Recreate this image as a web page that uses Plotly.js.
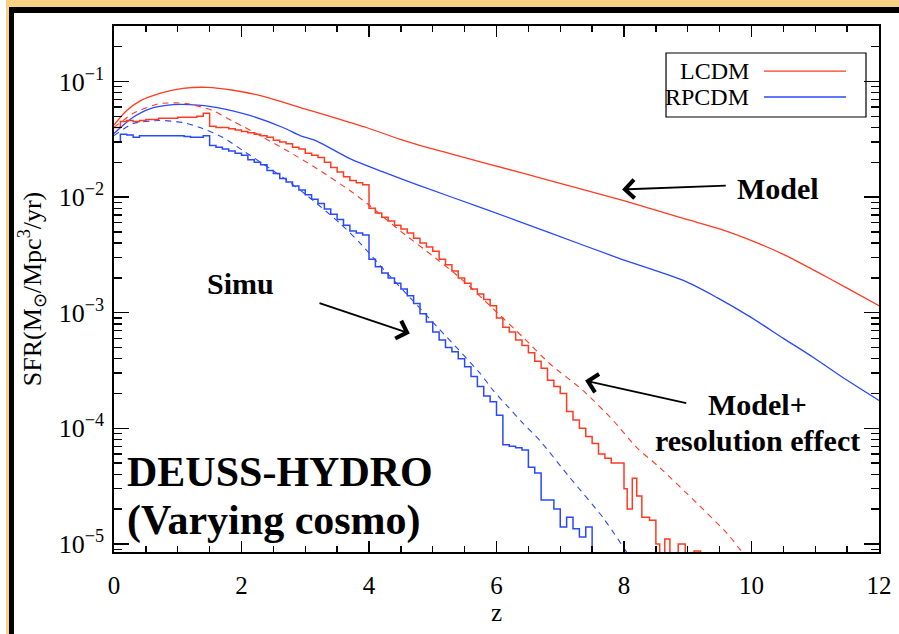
<!DOCTYPE html>
<html>
<head>
<meta charset="utf-8">
<script src="https://cdn.plot.ly/plotly-3.0.1.min.js"></script>
<style>
  html, body { margin:0; padding:0; background:#ffffff; width:899px; height:634px; overflow:hidden; }
  #gold { position:absolute; left:6px; top:0; width:893px; height:634px; background:#f7d184; }
  #black { position:absolute; left:9px; top:7px; width:890px; height:627px; background:#000000; }
  #chart { position:absolute; left:14px; top:13px; width:885px; height:621px; background:#ffffff; }
</style>
</head>
<body>
<div id="gold"></div>
<div id="black"></div>
<div id="chart"></div>
<script>
// ---------------- data ----------------
// Model (solid smooth lines)
var lcdmModelZ   = [0, 0.2, 0.41, 0.72, 1.08, 1.46, 1.87, 2.4, 2.92, 3.44, 3.97, 4.49, 4.91, 5.27, 5.79, 6.84, 7.98, 8.93, 9.5, 10.0, 10.5, 11.0, 11.5, 12];
var lcdmModelSFR = [0.042, 0.056, 0.068, 0.079, 0.087, 0.089, 0.084, 0.073, 0.0595, 0.049, 0.0398, 0.0316, 0.0269, 0.0238, 0.0199, 0.0139, 0.00935, 0.00653, 0.0053, 0.0042, 0.0032, 0.0023, 0.00163, 0.00115];

var rpcdmModelZ   = [0, 0.3, 0.56, 0.93, 1.19, 1.62, 2.13, 2.65, 2.92, 3.18, 3.70, 4.22, 4.75, 5.79, 6.84, 7.89, 8.93, 9.46, 9.98, 10.5, 11.0, 11.5, 12];
var rpcdmModelSFR = [0.0355, 0.049, 0.058, 0.063, 0.063, 0.0595, 0.0508, 0.040, 0.034, 0.0305, 0.0215, 0.0165, 0.0128, 0.008, 0.0049, 0.003, 0.0019, 0.00135, 0.00092, 0.0006, 0.0004, 0.00026, 0.000174];

// Model + resolution effect (dashed lines)
var lcdmResZ   = [0, 0.3, 0.72, 1.14, 1.55, 1.87, 2.02, 2.71, 3.18, 3.70, 3.97, 4.49, 5.0, 5.43, 5.95, 6.42, 6.84, 7.36, 7.83, 8.2, 8.56, 9.15, 9.62, 9.85];
var lcdmResSFR = [0.040, 0.053, 0.0645, 0.0645, 0.056, 0.045, 0.041, 0.0253, 0.0177, 0.0114, 0.0088, 0.0051, 0.0031, 0.0020, 0.00108, 0.00061, 0.00036, 0.000212, 0.000117, 0.000068, 0.0000458, 0.0000223, 0.0000123, 0.0000085];

var rpcdmResZ   = [0, 0.3, 0.72, 1.08, 1.35, 1.71, 2.02, 2.65, 3.03, 3.55, 3.86, 4.22, 4.75, 5.0, 5.74, 5.95, 6.16, 6.42, 6.68, 7.15, 7.67, 8.06];
var rpcdmResSFR = [0.034, 0.0433, 0.046, 0.0442, 0.040, 0.0328, 0.0253, 0.0148, 0.0103, 0.0059, 0.0040, 0.0024, 0.00117, 0.00083, 0.0003, 0.000212, 0.000158, 0.00011, 0.0000784, 0.0000375, 0.0000169, 0.0000082];

// Simulation (histogram steps)
var lcdmSimZ = [0.0,0.1,0.2,0.3,0.4,0.5,0.6,0.7,0.8,0.9,1.0,1.1,1.2,1.3,1.4,1.5,1.6,1.7,1.8,1.9,
                2.0,2.1,2.2,2.3,2.4,2.5,2.6,2.7,2.8,2.9,3.0,3.1,3.2,3.3,3.4,3.5,3.6,3.7,3.8,3.9,
                4.0,4.1,4.2,4.3,4.4,4.5,4.6,4.7,4.8,4.9,5.0,5.1,5.2,5.3,5.4,5.5,5.6,5.7,5.8,5.9,
                6.0,6.1,6.2,6.3,6.4,6.5,6.6,6.7,6.8,6.9,7.0,7.1,7.2,7.3,7.4,7.5,7.6,7.7,7.8,7.9,
                8.0,8.05,8.13,8.2,8.28,8.4,8.5,8.56,8.64,8.72,8.85,8.96,9.1,9.2];
var lcdmSimSFR = [0.040,0.045,0.046,0.045,0.046,0.047,0.047,0.048,0.048,0.048,0.049,0.049,0.049,0.050,0.053,0.041,0.040,0.040,0.039,0.038,
                0.037,0.036,0.035,0.034,0.033,0.031,0.030,0.029,0.027,0.026,0.024,0.023,0.022,0.020,0.018,0.0165,0.015,0.0139,0.0133,0.0128,
                0.0080,0.0073,0.0067,0.0062,0.0057,0.0053,0.0049,0.0044,0.0040,0.0037,0.0034,0.0029,0.0026,0.0023,0.0020,0.0018,0.0016,0.00145,0.0013,0.00115,
                0.0009,0.00075,0.00068,0.00058,0.00052,0.00045,0.00038,0.00033,0.00026,0.00023,0.00020,0.00014,0.000118,0.0001,0.000085,0.000074,0.00006,0.000055,0.00005,0.00005,
                0.00003,0.00002,0.000037,0.000026,0.000017,0.000016,0.00001,0.000001,0.000011,0.000001,0.00001,0.000001,0.0000087,0.000001];

var rpcdmSimZ = [0.0,0.1,0.2,0.3,0.4,0.5,0.6,0.7,0.8,0.9,1.0,1.1,1.2,1.3,1.4,1.5,1.6,1.7,1.8,1.9,
                 2.0,2.1,2.2,2.3,2.4,2.5,2.6,2.7,2.8,2.9,3.0,3.1,3.2,3.3,3.4,3.5,3.6,3.7,3.8,3.9,
                 4.0,4.1,4.2,4.3,4.4,4.5,4.6,4.7,4.8,4.9,5.0,5.1,5.2,5.3,5.4,5.5,5.6,5.7,5.8,5.9,
                 6.0,6.1,6.2,6.3,6.4,6.5,6.6,6.7,6.8,6.9,7.0,7.1,7.2,7.3,7.4,7.5];
var rpcdmSimSFR = [0.030,0.035,0.0345,0.033,0.034,0.034,0.034,0.034,0.034,0.034,0.034,0.0335,0.033,0.033,0.034,0.028,0.027,0.026,0.025,0.024,
                 0.023,0.021,0.020,0.019,0.017,0.016,0.0145,0.0135,0.0125,0.0115,0.0105,0.0096,0.0088,0.0079,0.0071,0.0064,0.0057,0.0051,0.0049,0.0047,
                 0.0029,0.0025,0.0022,0.0020,0.0018,0.0016,0.0014,0.0012,0.00098,0.00083,0.00068,0.00058,0.0005,0.00046,0.00040,0.00034,0.00028,0.00023,0.00019,0.00017,
                 0.00013,0.000072,0.00007,0.000068,0.000065,0.000046,0.000041,0.000024,0.000024,0.00002,0.000014,0.000017,0.0000135,0.0000115,0.000014,0.000001];

var xTicks = [0, 2, 4, 6, 8, 10, 12];
var yTicks = [1e-5, 1e-4, 1e-3, 1e-2, 1e-1];
var yTickText = ['10<sup>−5</sup>', '10<sup>−4</sup>', '10<sup>−3</sup>', '10<sup>−2</sup>', '10<sup>−1</sup>'];
var seriesNames = ['LCDM', 'RPCDM'];

// ---------------- styles ----------------
var RED = '#ff3b22';
var BLUE = '#2a48ff';
var SERIF = 'Liberation Serif, Times New Roman, serif';

var traces = [
  {x: lcdmModelZ, y: lcdmModelSFR, name: 'LCDM model', mode: 'lines', line: {color: RED, width: 1.3, shape: 'spline', smoothing: 0.8}},
  {x: rpcdmModelZ, y: rpcdmModelSFR, name: 'RPCDM model', mode: 'lines', line: {color: BLUE, width: 1.3, shape: 'spline', smoothing: 0.8}},
  {x: lcdmResZ, y: lcdmResSFR, name: 'LCDM model+res', mode: 'lines', line: {color: RED, width: 1.1, dash: '6px,5px', shape: 'spline', smoothing: 0.6}},
  {x: rpcdmResZ, y: rpcdmResSFR, name: 'RPCDM model+res', mode: 'lines', line: {color: BLUE, width: 1.1, dash: '6px,5px', shape: 'spline', smoothing: 0.6}},
  {x: lcdmSimZ, y: lcdmSimSFR, name: 'LCDM simu', mode: 'lines', line: {color: RED, width: 1.5, shape: 'hv'}},
  {x: rpcdmSimZ, y: rpcdmSimSFR, name: 'RPCDM simu', mode: 'lines', line: {color: BLUE, width: 1.5, shape: 'hv'}}
];

function lg(v) { return Math.log10(v); }

var annotations = [
  // labels
  {x: 9.74, y: lg(0.0118), xref: 'x', yref: 'y', xanchor: 'left', yanchor: 'middle', text: '<b>Model</b>', showarrow: false, font: {family: SERIF, size: 30, color: '#000'}},
  {x: 1.43, y: lg(0.00179), xref: 'x', yref: 'y', xanchor: 'left', yanchor: 'middle', text: '<b>Simu</b>', showarrow: false, font: {family: SERIF, size: 30, color: '#000'}},
  {x: 10.09, y: lg(0.000161), xref: 'x', yref: 'y', xanchor: 'center', yanchor: 'middle', text: '<b>Model+</b>', showarrow: false, font: {family: SERIF, size: 30, color: '#000'}},
  {x: 10.09, y: lg(0.0000783), xref: 'x', yref: 'y', xanchor: 'center', yanchor: 'middle', text: '<b>resolution effect</b>', showarrow: false, font: {family: SERIF, size: 30, color: '#000'}},
  {x: 0.17, y: lg(0.0000415), xref: 'x', yref: 'y', xanchor: 'left', yanchor: 'middle', text: '<b>DEUSS-HYDRO</b>', showarrow: false, font: {family: SERIF, size: 42, color: '#000'}},
  {x: 0.17, y: lg(0.0000158), xref: 'x', yref: 'y', xanchor: 'left', yanchor: 'middle', text: '<b>(Varying cosmo)</b>', showarrow: false, font: {family: SERIF, size: 42, color: '#000'}},
  // arrows
  {x: 7.97, y: -1.934, ax: 9.62, ay: -1.90, xref: 'x', yref: 'y', axref: 'x', ayref: 'y', text: '', showarrow: true, arrowhead: 4, arrowsize: 2, arrowwidth: 1.8, arrowcolor: '#000'},
  {x: 4.64, y: -3.18, ax: 3.2, ay: -2.912, xref: 'x', yref: 'y', axref: 'x', ayref: 'y', text: '', showarrow: true, arrowhead: 4, arrowsize: 2, arrowwidth: 1.8, arrowcolor: '#000'},
  {x: 7.39, y: -3.587, ax: 9.0, ay: -3.785, xref: 'x', yref: 'y', axref: 'x', ayref: 'y', text: '', showarrow: true, arrowhead: 4, arrowsize: 2, arrowwidth: 1.8, arrowcolor: '#000'},
  // legend texts
  {x: 0.8327, y: 0.9144, xref: 'paper', yref: 'paper', xanchor: 'right', yanchor: 'middle', text: seriesNames[0], showarrow: false, font: {family: SERIF, size: 24, color: '#000'}},
  {x: 0.8327, y: 0.865, xref: 'paper', yref: 'paper', xanchor: 'right', yanchor: 'middle', text: seriesNames[1], showarrow: false, font: {family: SERIF, size: 24, color: '#000'}}
];

var shapes = [
  {type: 'rect', xref: 'paper', yref: 'paper', x0: 0.7216, x1: 0.983, y0: 0.827, y1: 0.9487, line: {color: '#000', width: 1.2}, fillcolor: 'rgba(255,255,255,0)', layer: 'above'},
  {type: 'line', xref: 'paper', yref: 'paper', x0: 0.8497, x1: 0.9569, y0: 0.9144, y1: 0.9144, line: {color: RED, width: 1.3}},
  {type: 'line', xref: 'paper', yref: 'paper', x0: 0.8497, x1: 0.9569, y0: 0.865, y1: 0.865, line: {color: BLUE, width: 1.3}}
];

var layout = {
  width: 885, height: 621,
  margin: {l: 100, r: 20, t: 13, b: 82},
  paper_bgcolor: '#ffffff', plot_bgcolor: '#ffffff',
  showlegend: false,
  font: {family: SERIF, size: 24, color: '#000'},
  xaxis: {
    range: [0, 12], tickmode: 'array', tickvals: xTicks, ticktext: xTicks.map(String),
    ticks: 'inside', ticklen: 11, tickwidth: 1.5, tickcolor: '#000',
    mirror: 'allticks', showline: true, linewidth: 1.6, linecolor: '#000',
    showgrid: false, zeroline: false,
    minor: {ticks: 'inside', ticklen: 6, tickwidth: 1.3, tickcolor: '#000', dtick: 0.5, tick0: 0, showgrid: false},
    ticklabelstandoff: 10,
    tickfont: {family: SERIF, size: 25, color: '#000'},
    title: {text: 'z', standoff: 6, font: {family: SERIF, size: 25, color: '#000'}}
  },
  yaxis: {
    type: 'log', range: [-5.07, -0.52], tickmode: 'array', tickvals: yTicks, ticktext: yTickText,
    ticks: 'inside', ticklen: 15, tickwidth: 1.5, tickcolor: '#000',
    mirror: 'allticks', showline: true, linewidth: 1.6, linecolor: '#000',
    showgrid: false, zeroline: false,
    minor: {ticks: 'inside', ticklen: 8, tickwidth: 1.3, tickcolor: '#000', dtick: 'D1', showgrid: false},
    ticklabelstandoff: 3,
    tickfont: {family: SERIF, size: 26, color: '#000'},
    title: {text: 'SFR(M<sub>⊙</sub>/Mpc<sup>3</sup>/yr)', standoff: 10, font: {family: SERIF, size: 26, color: '#000'}}
  },
  annotations: annotations,
  shapes: shapes
};

Plotly.newPlot('chart', traces, layout, {staticPlot: true, displayModeBar: false});
</script>
</body>
</html>
